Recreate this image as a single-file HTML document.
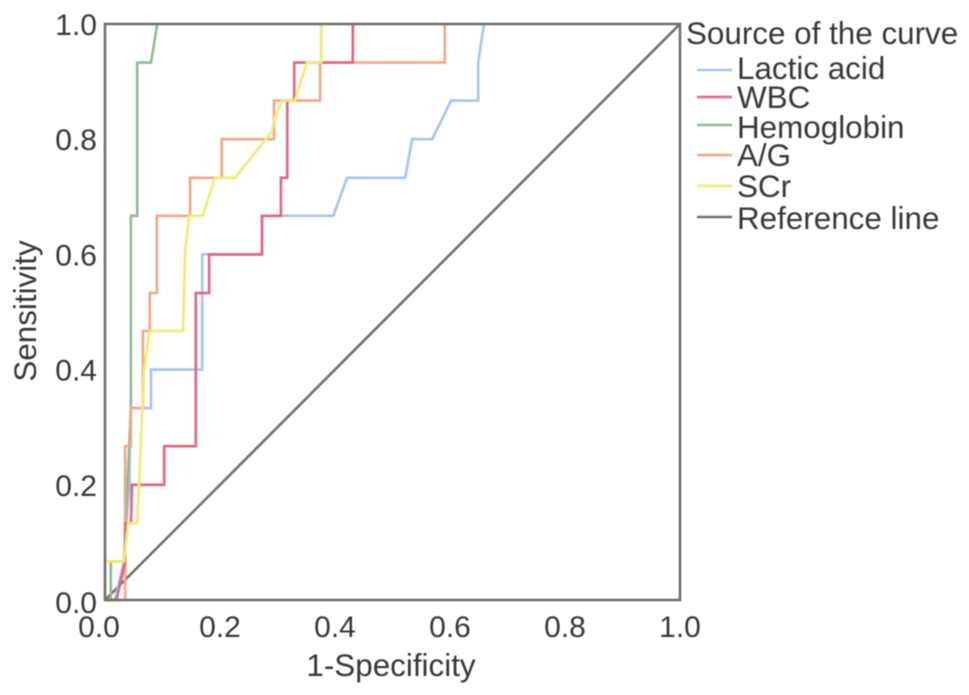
<!DOCTYPE html>
<html>
<head>
<meta charset="utf-8">
<title>ROC curves</title>
<style>
html,body{margin:0;padding:0;background:#fff;}
svg{display:block;filter:blur(0.6px);}
text{font-family:"Liberation Sans",Arial,sans-serif;fill:#383838;}
</style>
</head>
<body>
<svg id="chart" width="969" height="695" viewBox="0 0 969 695" xmlns="http://www.w3.org/2000/svg">
<rect x="0" y="0" width="969" height="695" fill="#fff"/>
<g id="series-layer"></g>
<rect x="105" y="24" width="575" height="576" fill="none" stroke="#707070" stroke-width="2.6"/>
<g id="tick-layer" font-size="30"></g>
<text x="391" y="676" font-size="31.4" text-anchor="middle">1-Specificity</text>
<text transform="translate(36,311) rotate(-90)" font-size="31.4" text-anchor="middle">Sensitivity</text>
<g font-size="31.4">
<text x="686" y="44">Source of the curve</text>
<g><line x1="697" x2="732" y1="70" y2="70" stroke="#a6c3f2" stroke-width="2.6"/><text x="737" y="79">Lactic acid</text></g>
<g><line x1="697" x2="732" y1="97" y2="97" stroke="#e8627f" stroke-width="2.6"/><text x="737" y="108">WBC</text></g>
<g><line x1="697" x2="732" y1="125" y2="125" stroke="#8fba92" stroke-width="2.6"/><text x="737" y="138">Hemoglobin</text></g>
<g><line x1="697" x2="732" y1="155" y2="155" stroke="#f5a684" stroke-width="2.6"/><text x="737" y="166">A/G</text></g>
<g><line x1="697" x2="732" y1="186" y2="186" stroke="#eeec72" stroke-width="2.6"/><text x="737" y="197">SCr</text></g>
<g><line x1="697" x2="732" y1="217" y2="217" stroke="#707070" stroke-width="2.6"/><text x="737" y="229">Reference line</text></g>
</g>
</svg>
<script>
var tickValues = [0, 0.2, 0.4, 0.6, 0.8, 1];
var tickLabels = ["0.0", "0.2", "0.4", "0.6", "0.8", "1.0"];

var lacticX = [0, 0.017, 0.033, 0.037, 0.043, 0.043, 0.045, 0.08, 0.08, 0.169, 0.169, 0.273, 0.273, 0.397, 0.421, 0.522, 0.534, 0.569, 0.602, 0.649, 0.649, 0.659];
var lacticY = [0, 0, 0.067, 0.133, 0.2, 0.267, 0.333, 0.333, 0.4, 0.4, 0.6, 0.6, 0.667, 0.667, 0.733, 0.733, 0.8, 0.8, 0.867, 0.867, 0.933, 1];

var wbcX = [0, 0.02, 0.035, 0.035, 0.045, 0.047, 0.103, 0.103, 0.158, 0.158, 0.181, 0.181, 0.273, 0.273, 0.306, 0.306, 0.317, 0.317, 0.329, 0.329, 0.431, 0.431];
var wbcY = [0, 0, 0.067, 0.133, 0.133, 0.2, 0.2, 0.267, 0.267, 0.533, 0.533, 0.6, 0.6, 0.667, 0.667, 0.733, 0.733, 0.867, 0.867, 0.933, 0.933, 1];

var hemoglobinX = [0, 0.01, 0.01, 0.033, 0.045, 0.045, 0.056, 0.056, 0.08, 0.091];
var hemoglobinY = [0, 0, 0.067, 0.067, 0.333, 0.667, 0.667, 0.933, 0.933, 1];

var agX = [0, 0.035, 0.035, 0.045, 0.045, 0.066, 0.066, 0.078, 0.078, 0.09, 0.09, 0.148, 0.148, 0.203, 0.203, 0.294, 0.294, 0.374, 0.374, 0.591, 0.591];
var agY = [0, 0, 0.267, 0.267, 0.333, 0.333, 0.467, 0.467, 0.533, 0.533, 0.667, 0.667, 0.733, 0.733, 0.8, 0.8, 0.867, 0.867, 0.933, 0.933, 1];

var scrX = [0, 0, 0.033, 0.04, 0.056, 0.068, 0.078, 0.136, 0.139, 0.146, 0.17, 0.191, 0.226, 0.29, 0.296, 0.308, 0.33, 0.351, 0.376, 0.376];
var scrY = [0, 0.067, 0.067, 0.133, 0.133, 0.4, 0.467, 0.467, 0.6, 0.667, 0.667, 0.733, 0.733, 0.813, 0.84, 0.867, 0.867, 0.933, 0.933, 1];

var referenceX = [0, 1];
var referenceY = [0, 1];

var NS = "http://www.w3.org/2000/svg";
var plotLeft = 105, plotWidth = 575, plotBottom = 600, plotHeight = 576;

function xScale(v) { return plotLeft + v * plotWidth; }
function yScale(v) { return plotBottom - v * plotHeight; }

function drawCurve(xs, ys, color, name) {
  var pts = xs.map(function (x, i) { return xScale(x).toFixed(1) + "," + yScale(ys[i]).toFixed(1); });
  var el = document.createElementNS(NS, "polyline");
  el.setAttribute("points", pts.join(" "));
  el.setAttribute("fill", "none");
  el.setAttribute("stroke", color);
  el.setAttribute("stroke-width", "2.6");
  
  
  document.getElementById("series-layer").appendChild(el);
}

drawCurve(referenceX, referenceY, "#707070", "reference-line");
drawCurve(lacticX, lacticY, "#a6c3f2", "curve-lactic-acid");
drawCurve(hemoglobinX, hemoglobinY, "#8fba92", "curve-hemoglobin");
drawCurve(agX, agY, "#f5a684", "curve-ag");
drawCurve(wbcX, wbcY, "#e8627f", "curve-wbc");
drawCurve(scrX, scrY, "#eeec72", "curve-scr");

var tickLayer = document.getElementById("tick-layer");
tickValues.forEach(function (v, i) {
  var xt = document.createElementNS(NS, "text");
  xt.setAttribute("x", xScale(v) + (i === 0 ? -6 : 0));
  xt.setAttribute("y", 637);
  xt.setAttribute("text-anchor", "middle");
  
  
  xt.textContent = tickLabels[i];
  tickLayer.appendChild(xt);

  var yt = document.createElementNS(NS, "text");
  yt.setAttribute("x", 97);
  yt.setAttribute("y", yScale(v) + (i === 0 ? 13 : 11));
  yt.setAttribute("text-anchor", "end");
  
  
  yt.textContent = tickLabels[i];
  tickLayer.appendChild(yt);
});
</script>
</body>
</html>
